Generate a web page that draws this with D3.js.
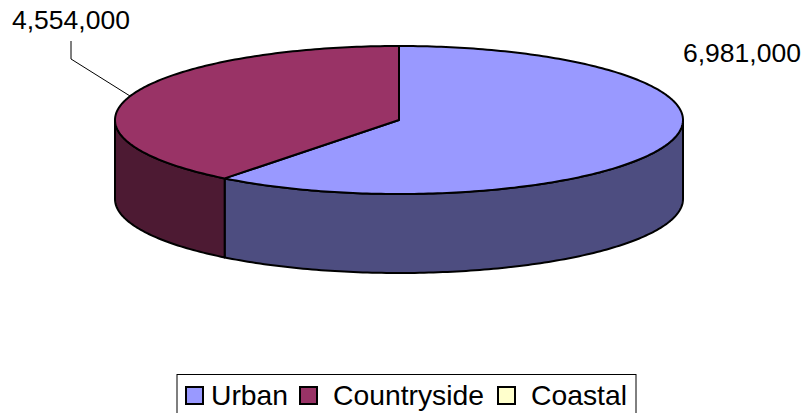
<!DOCTYPE html>
<html>
<head>
<meta charset="utf-8">
<script src="https://cdn.jsdelivr.net/npm/d3@7"></script>
<style>
  html, body { margin: 0; padding: 0; background: #fff; overflow: hidden; }
  text { font-family: "Liberation Sans", Arial, sans-serif; fill: #000; }
</style>
</head>
<body>
<script>
const categories = ['Urban', 'Countryside', 'Coastal'];
const values = [6981000, 4554000, 0];
const topColors = ['#9999FF', '#993366', '#FFFFCC'];
const sideColors = ['#4D4D80', '#4D1A33', '#808066'];

const width = 806;
const height = 413;
const depth = 79;

const svg = d3.select('body').append('svg')
  .attr('width', width)
  .attr('height', height)
  .style('display', 'block');

// unit circle squashed into the ellipse of the pie top
const x = d3.scaleLinear().domain([-1, 1]).range([115, 683]);
const y = d3.scaleLinear().domain([-1, 1]).range([46, 194]);

const slices = d3.pie().sort(null)(values);

const line = d3.line()
  .x(d => x(Math.sin(d)))
  .y(d => y(-Math.cos(d)));

const steps = (a, b) => {
  const n = Math.max(2, Math.ceil((b - a) * 60));
  return d3.range(n + 1).map(i => a + (b - a) * i / n);
};

// Side walls, only the front half of the rim shows
const sideGroup = svg.append('g');
slices.forEach((s, i) => {
  const a = Math.max(s.startAngle, Math.PI / 2);
  const b = Math.min(s.endAngle, Math.PI * 1.5);
  if (b <= a) return;
  const rim = steps(a, b);
  const upper = rim.map(t => [x(Math.sin(t)), y(-Math.cos(t))]);
  const lower = rim.slice().reverse().map(t => [x(Math.sin(t)), y(-Math.cos(t)) + depth]);
  sideGroup.append('path')
    .attr('d', d3.line()(upper.concat(lower)) + 'Z')
    .attr('fill', sideColors[i])
    .attr('stroke', '#000')
    .attr('stroke-width', 2)
    .attr('stroke-linejoin', 'round');
});

// Top of the pie
const topGroup = svg.append('g');
slices.forEach((s, i) => {
  if (s.endAngle - s.startAngle <= 0) return;
  const edge = line(steps(s.startAngle, s.endAngle));
  topGroup.append('path')
    .attr('d', `M${x(0)},${y(0)}L${edge.slice(1)}Z`)
    .attr('fill', topColors[i])
    .attr('stroke', '#000')
    .attr('stroke-width', 2)
    .attr('stroke-linejoin', 'round');
});

// Data labels
const fmt = d3.format(',');
svg.append('text')
  .attr('x', 683)
  .attr('y', 62)
  .attr('font-size', '26.5px')
  .text(fmt(values[0]));
svg.append('text')
  .attr('x', 12)
  .attr('y', 29)
  .attr('font-size', '26.5px')
  .text(fmt(values[1]));

// Leader line for the countryside label
svg.append('path')
  .attr('d', 'M71,41V59L130,96')
  .attr('fill', 'none')
  .attr('stroke', '#000')
  .attr('stroke-width', 1);

// Legend, its box runs off the bottom of the window
const legend = svg.append('g');
legend.append('rect')
  .attr('x', 177)
  .attr('y', 374.5)
  .attr('width', 459)
  .attr('height', 60)
  .attr('fill', '#fff')
  .attr('stroke', '#000')
  .attr('stroke-width', 1);

const swatchX = [186, 300, 498];
const labelX = [211, 333, 531];

categories.forEach((c, i) => {
  legend.append('rect')
    .attr('x', swatchX[i])
    .attr('y', 387)
    .attr('width', 17)
    .attr('height', 17)
    .attr('fill', topColors[i])
    .attr('stroke', '#000')
    .attr('stroke-width', 2);
  legend.append('text')
    .attr('x', labelX[i])
    .attr('y', 405)
    .attr('font-size', '28.3px')
    .text(c);
});
</script>
</body>
</html>
